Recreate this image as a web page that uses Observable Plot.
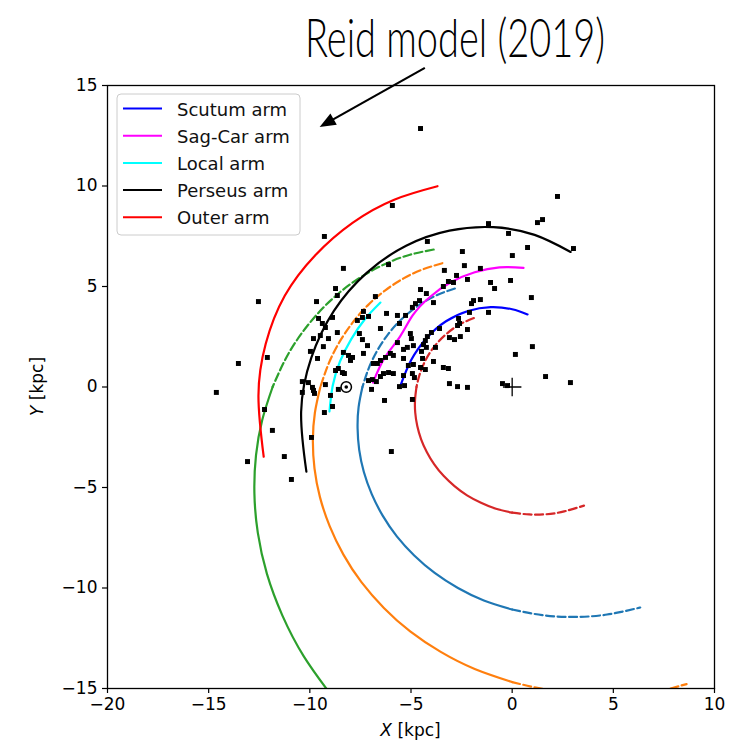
<!DOCTYPE html>
<html><head><meta charset="utf-8">
<script src="https://cdn.jsdelivr.net/npm/d3@7"></script>
<script src="https://cdn.jsdelivr.net/npm/@observablehq/plot@0.6"></script>
<style>body{margin:0;background:#fff} #chart{width:747px;height:741px}</style>
</head><body><div id="chart"></div>
<script>
// ---- data (kpc) ----
const xTicks = [-20, -15, -10, -5, 0, 5, 10];
const yTicks = [-15, -10, -5, 0, 5, 10, 15];
const legendLabels = ["Scutum arm", "Sag-Car arm", "Local arm", "Perseus arm", "Outer arm"];
const legendColors = ["#0000ff", "#ff00ff", "#00ffff", "#000000", "#ff0000"];

const scutumArm = [[0.76,3.61],[0,3.87],[-1.06,3.97],[-2.18,3.78],[-3.27,3.27],[-4.22,2.44],[-4.99,1.34],[-5.52,0.07]];
const sagCarArm = [[0.56,5.93],[-0.63,5.95],[-1.85,5.71],[-3.01,5.22],[-4.05,4.49],[-4.91,3.57],[-5.56,2.48],[-6.30,1.46],[-6.88,0.22]];
const localArm = [[-6.51,4.20],[-7.29,3.36],[-7.96,2.37],[-8.51,1.27],[-8.87,0.06],[-9.03,-1.22]];
const perseusArm = [[2.89,6.72],[1.11,7.57],[-0.93,7.95],[-3.10,7.78],[-5.24,7.03],[-7.19,5.68],[-8.81,3.79],[-9.93,1.45],[-10.43,-1.23],[-10.17,-4.21]];
const outerArm = [[-3.69,9.99],[-5.83,9.32],[-7.89,8.17],[-9.73,6.56],[-11.24,4.54],[-12.18,2.15],[-12.54,-0.44],[-12.28,-3.47]];

const greenDashed = [[-3.88,6.84],[-5.05,6.58],[-6.17,6.17],[-7.28,5.59],[-8.37,4.83],[-9.39,3.89],[-10.33,2.77],[-11.16,1.47],[-11.84,0]];
const greenSolid = [[-11.84,0],[-12.35,-1.63],[-12.66,-3.39],[-12.74,-5.28],[-12.57,-7.26],[-12.12,-9.30],[-11.36,-11.36],[-10.29,-13.41],[-8.89,-15.40]];

const orangeDashed = [[-3.45,6.16],[-4.47,5.83],[-5.39,5.39],[-6.27,4.81],[-7.10,4.10],[-7.85,3.25],[-8.51,2.28],[-9.06,1.19],[-9.48,0]];
const orangeSolid = [[-9.48,0],[-9.75,-1.28],[-9.85,-2.64],[-9.77,-4.05],[-9.50,-5.48],[-9.02,-6.92],[-8.34,-8.34],[-7.45,-9.71],[-6.34,-10.99],[-5.04,-12.16],[-3.53,-13.18],[-1.85,-14.03],[0,-14.68]];
const orangeDashedEnd = [[0,-14.68],[1.31,-14.98],[2.68,-15.18]];
const orangeTail = [[7.83,-15.0],[8.62,-14.78]];

const blueDashed = [[-2.83,4.90],[-3.56,4.64],[-4.28,4.28],[-4.96,3.81],[-5.60,3.24],[-6.18,2.56],[-6.68,1.79],[-7.09,0.93],[-7.40,0]];
const blueSolid = [[-7.40,0],[-7.59,-1.00],[-7.64,-2.05],[-7.56,-3.13],[-7.33,-4.23],[-6.94,-5.33],[-6.40,-6.40],[-5.70,-7.43],[-4.84,-8.38],[-3.83,-9.25],[-2.68,-10.00],[-1.40,-10.62],[0,-11.07]];
const blueDashedEnd = [[0,-11.07],[1.49,-11.35],[3.07,-11.44],[4.69,-11.32],[6.33,-10.97]];

const redDashed = [[-1.89,3.43],[-2.45,3.19],[-2.91,2.91],[-3.34,2.56],[-3.73,2.16],[-4.08,1.69],[-4.36,1.17],[-4.58,0.60],[-4.73,0]];
const redSolid = [[-4.73,0],[-4.80,-0.63],[-4.79,-1.28],[-4.69,-1.94],[-4.50,-2.60],[-4.22,-3.23],[-3.85,-3.85],[-3.39,-4.42],[-2.85,-4.93],[-2.23,-5.39],[-1.54,-5.76],[-0.80,-6.06],[0,-6.25]];
const redDashedEnd = [[0,-6.25],[0.84,-6.34],[1.70,-6.33],[2.57,-6.19],[3.55,-5.90]];

const maserPositions = [
[-4.53,12.86],[2.24,9.48],[1.25,8.18],[1.50,8.33],[-0.18,7.64],[-1.17,8.13],[0.76,6.94],[0.01,6.54],[3.03,6.89],[-0.08,5.30],
[0.95,4.45],[1.00,2.01],[0.16,1.62],[1.65,0.52],[2.88,0.22],[-0.48,0.17],[-0.23,0.07],[-5.92,9.03],[-9.28,7.49],[-4.19,7.24],
[-8.34,5.90],[-6.11,6.09],[-2.46,6.74],[-2.36,6.04],[-3.35,5.80],[-2.75,5.55],[-3.15,5.25],[-2.90,5.20],[-2.21,5.35],[-1.57,5.90],
[-1.07,5.20],[-0.87,4.90],[-3.40,5.00],[-4.53,4.85],[-4.24,4.65],[-8.73,4.90],[-8.64,4.55],[-6.76,4.50],[-9.67,4.25],[-12.54,4.25],
[-4.58,4.30],[-3.89,4.20],[-4.78,4.15],[-4.93,3.96],[-7.35,3.76],[-7.40,3.46],[-7.10,3.51],[-7.65,3.31],[-6.21,3.66],[-5.67,3.56],
[-5.27,3.56],[-8.88,3.46],[-9.57,3.41],[-9.38,3.16],[-9.23,2.96],[-1.91,4.30],[-2.01,4.15],[-1.57,4.35],[-1.17,3.71],[-2.11,3.71],
[-2.65,3.41],[-2.60,3.16],[-2.70,3.06],[-2.21,2.86],[-3.59,2.91],[-3.99,2.71],[-6.51,2.91],[-5.57,3.16],[-7.55,2.66],[-8.64,2.71],
[-9.48,2.56],[-9.82,2.41],[-9.08,2.41],[-7.40,2.36],[-7.15,2.06],[-7.35,1.67],[-8.34,1.72],[-8.09,1.57],[-7.89,1.47],[-7.99,1.32],
[-9.97,1.77],[-9.33,2.01],[-9.62,1.42],[-5.67,2.21],[-5.03,2.66],[-4.98,2.41],[-4.19,2.51],[-4.29,2.31],[-4.38,2.11],[-4.24,1.97],
[-3.79,1.97],[-3.10,2.46],[-2.85,2.36],[-2.56,2.51],[-5.37,1.87],[-5.18,1.97],[-4.88,2.06],[-4.48,1.77],[-6.02,1.67],[-5.87,1.57],
[-6.26,1.47],[-6.51,1.32],[-6.66,1.17],[-5.37,1.42],[-4.43,1.42],[-3.89,1.27],[-5.13,1.07],[-4.88,1.12],[-3.40,0.97],[-3.15,0.92],
[-4.29,0.87],[-4.53,0.97],[-4.93,0.67],[-4.83,0.47],[-5.37,0.57],[-5.87,0.67],[-6.11,0.72],[-6.36,0.67],[-6.51,0.52],[-7.10,0.32],
[-6.91,0.37],[-6.71,0.27],[-6.95,-0.12],[-5.57,0.02],[-5.32,0.07],[-6.31,-0.67],[-4.93,-0.62],[-3.10,0.17],[-2.70,0.02],[-2.21,-0.02],
[-8.59,0.92],[-8.73,0.82],[-8.39,0.72],[-8.29,0.67],[-8.98,-0.42],[-8.88,-0.97],[-9.28,-1.27],[-10.37,0.27],[-10.07,0.22],[-9.87,-0.02],
[-10.37,-0.27],[-9.82,-0.17],[-9.77,-0.32],[-9.23,0.12],[-8.59,-0.12],[-12.10,1.47],[-13.53,1.17],[-14.62,-0.27],[-12.24,-1.12],[-11.85,-2.16],
[-9.92,-2.51],[-11.26,-3.46],[-13.08,-3.71],[-10.91,-4.60],[-5.97,-3.21],[-6.86,1.17]
];
const sunPosition = [[-8.2, 0.0]];
const galacticCenter = [[0.0, 0.0]];
const titleText = "Reid model (2019)";
const arrowNote = {from: [-4.29, 15.85], to: [-9.49, 12.91]};

// ---- chart ----
const xy = {x: d => d[0], y: d => d[1]};
const LW = 2.2, DASH = "8,3.5";
const solid = (data, stroke) => Plot.line(data, {...xy, stroke, strokeWidth: LW, curve: "natural", clip: true});
const dashed = (data, stroke) => Plot.line(data, {...xy, stroke, strokeWidth: LW, strokeDasharray: DASH, curve: "natural", clip: true});

const TB = "#1f77b4", TO = "#ff7f0e", TG = "#2ca02c", TR = "#d62728";

const plot = Plot.plot({
  width: 747, height: 741,
  marginLeft: 107, marginRight: 33, marginTop: 85, marginBottom: 53,
  x: {domain: [-20, 10]},
  y: {domain: [-15, 15]},
  style: {fontFamily: "DejaVu Sans", fontSize: "17px", color: "black", background: "white", overflow: "visible"},
  marks: [
    dashed(greenDashed, TG), solid(greenSolid, TG),
    dashed(orangeDashed, TO), solid(orangeSolid, TO), dashed(orangeDashedEnd, TO), dashed(orangeTail, TO),
    dashed(blueDashed, TB), solid(blueSolid, TB), dashed(blueDashedEnd, TB),
    dashed(redDashed, TR), solid(redSolid, TR), dashed(redDashedEnd, TR),
    solid(outerArm, legendColors[4]),
    solid(perseusArm, legendColors[3]),
    solid(localArm, legendColors[2]),
    solid(sagCarArm, legendColors[1]),
    solid(scutumArm, legendColors[0]),
    Plot.dot(maserPositions, {...xy, symbol: "square", r: 2.8, fill: "black"}),
    Plot.dot(sunPosition, {...xy, r: 5.2, stroke: "black", strokeWidth: 1.5, fill: "none"}),
    Plot.dot(sunPosition, {...xy, r: 1.8, fill: "black"}),
    Plot.dot(galacticCenter, {...xy, symbol: "plus", r: 6, stroke: "black", strokeWidth: 1.3}),
    Plot.frame({stroke: "black", strokeWidth: 1.3}),
    Plot.axisX({ticks: xTicks, tickSize: 5, tickPadding: 4, label: null, strokeWidth: 1.2}),
    Plot.axisY({ticks: yTicks, tickSize: 5, tickPadding: 5, label: null, strokeWidth: 1.2})
  ]
});
document.getElementById("chart").appendChild(plot);

const svg = d3.select(plot);
const sx = plot.scale("x"), sy = plot.scale("y");
const X0 = sx.range[0], X1 = sx.range[1], Y0 = sy.range[1], Y1 = sy.range[0];

// axis labels
const xl = svg.append("text").attr("x", (X0 + X1) / 2).attr("y", 736)
  .attr("text-anchor", "middle").style("font-size", "17px").attr("fill", "black");
xl.append("tspan").attr("font-style", "italic").text("X");
xl.append("tspan").text(" [kpc]");
const yl = svg.append("text").attr("transform", `translate(43,${(Y0 + Y1) / 2}) rotate(-90)`)
  .attr("text-anchor", "middle").style("font-size", "17px").attr("fill", "black");
yl.append("tspan").attr("font-style", "italic").text("Y");
yl.append("tspan").text(" [kpc]");

// title
svg.append("text").attr("x", 455).attr("y", 57).attr("text-anchor", "middle")
  .attr("textLength", 300).attr("lengthAdjust", "spacingAndGlyphs")
  .style("font-family", "Lato, 'Open Sans', sans-serif").style("font-weight", "300")
  .style("font-size", "54px").attr("fill", "black").text(titleText);

// arrow
{
  const ax1 = sx.apply(arrowNote.from[0]), ay1 = sy.apply(arrowNote.from[1]);
  const ax2 = sx.apply(arrowNote.to[0]), ay2 = sy.apply(arrowNote.to[1]);
  const dx = ax2 - ax1, dy = ay2 - ay1, L = Math.hypot(dx, dy);
  const ux = dx / L, uy = dy / L, hl = 16, hw = 6.5;
  const bx = ax2 - ux * hl, by = ay2 - uy * hl;
  svg.append("line").attr("x1", ax1).attr("y1", ay1).attr("x2", bx + ux * 2).attr("y2", by + uy * 2)
    .attr("stroke", "black").attr("stroke-width", 2.2);
  svg.append("path").attr("d", `M${ax2},${ay2}L${bx - uy * hw},${by + ux * hw}L${bx + uy * hw},${by - ux * hw}Z`)
    .attr("fill", "black");
}

// legend
{
  const g = svg.append("g").attr("text-anchor", "start");
  g.append("rect").attr("x", 117).attr("y", 94).attr("width", 183).attr("height", 141).attr("rx", 4)
    .attr("fill", "white").attr("fill-opacity", 0.8).attr("stroke", "#cccccc").attr("stroke-width", 1);
  legendLabels.forEach((lab, i) => {
    const yy = 108.5 + i * 27.2;
    g.append("line").attr("x1", 123).attr("x2", 162).attr("y1", yy).attr("y2", yy)
      .attr("stroke", legendColors[i]).attr("stroke-width", 2);
    g.append("text").attr("x", 177).attr("y", yy + 7).attr("text-anchor", "start")
      .style("font-size", "18px").attr("fill", "#111").text(lab);
  });
}
</script>
</body></html>
